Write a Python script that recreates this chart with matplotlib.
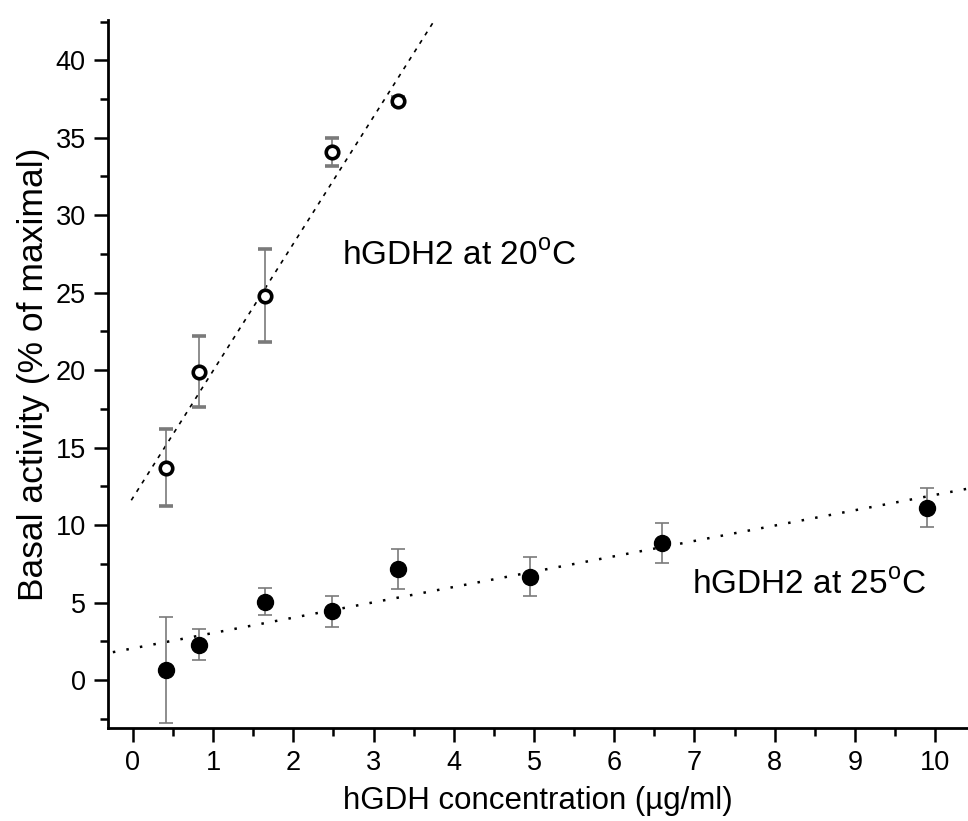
import matplotlib
matplotlib.use("Agg")
import matplotlib.pyplot as plt
from matplotlib.ticker import MultipleLocator
import numpy as np

plt.rcParams['font.family'] = ['Liberation Sans', 'DejaVu Sans']
plt.rcParams['mathtext.fontset'] = 'custom'
plt.rcParams['mathtext.rm'] = 'Liberation Sans'

# hGDH2 at 20 C (open circles)
conc_20 = [0.41, 0.83, 1.65, 2.48, 3.30]
act_20 = [13.7, 19.9, 24.8, 34.1, 37.4]
err_20 = [2.5, 2.3, 3.0, 0.9, 0.2]

# hGDH2 at 25 C (filled circles)
conc_25 = [0.41, 0.83, 1.65, 2.48, 3.30, 4.95, 6.60, 9.90]
act_25 = [0.65, 2.26, 5.05, 4.45, 7.14, 6.67, 8.82, 11.12]
err_25 = [3.4, 1.0, 0.87, 1.0, 1.3, 1.25, 1.3, 1.25]

fig = plt.figure(figsize=(9.68, 8.21), dpi=100)
ax = fig.add_axes([0.1116, 0.1133, 0.8884, 0.8623])

# linear fits
p20 = np.polyfit(conc_20, act_20, 1)
p25 = np.polyfit(conc_25, act_25, 1)
xf20 = np.linspace(-0.02, 3.8, 50)
xf25 = np.linspace(-0.25, 10.45, 50)
ax.plot(xf20, np.polyval(p20, xf20), color='black', lw=1.2,
        linestyle=(0, (2.5, 3.5)), zorder=1)
ax.plot(xf25, np.polyval(p25, xf25), color='black', lw=1.8,
        linestyle=(0, (1, 4.5)), zorder=1)

ax.errorbar(conc_20, act_20, yerr=err_20, fmt='o', ms=9, mfc='white',
            mec='black', mew=2.6, ecolor='#7a7a7a', elinewidth=1.2,
            capsize=4.7, capthick=1.2, zorder=3)
ax.errorbar(conc_25, act_25, yerr=err_25, fmt='o', ms=11.5, mfc='black',
            mec='black', ecolor='#7a7a7a', elinewidth=1.2,
            capsize=4.7, capthick=1.2, zorder=3)

ax.text(2.61, 26.8, 'hGDH2 at 20$^{\\rm o}$C', fontsize=24, ha='left', va='baseline')
ax.text(6.97, 5.6, 'hGDH2 at 25$^{\\rm o}$C', fontsize=24, ha='left', va='baseline')

ax.set_xlim(-0.31, 10.41)
ax.set_ylim(-3.1, 42.6)
ax.xaxis.set_major_locator(MultipleLocator(1))
ax.xaxis.set_minor_locator(MultipleLocator(0.5))
ax.yaxis.set_major_locator(MultipleLocator(5))
ax.yaxis.set_minor_locator(MultipleLocator(2.5))

for s in ['top', 'right']:
    ax.spines[s].set_visible(False)
for s in ['left', 'bottom']:
    ax.spines[s].set_linewidth(2)

ax.tick_params(which='major', direction='out', length=10, width=1.8,
               labelsize=19.5, pad=6)
ax.tick_params(which='minor', direction='out', length=5.8, width=1.8)

ax.set_xlabel('hGDH concentration (µg/ml)', fontsize=22.5, labelpad=7)
ax.set_ylabel('Basal activity (% of maximal)', fontsize=25.5, labelpad=4)

fig.savefig('out.png', dpi=100)
